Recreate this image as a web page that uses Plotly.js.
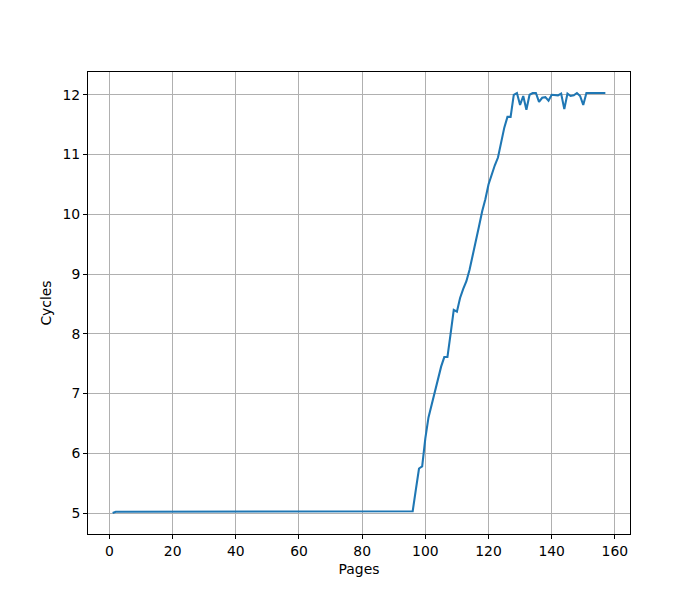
<!DOCTYPE html>
<html>
<head>
<meta charset="utf-8">
<script src="https://cdn.plot.ly/plotly-3.0.1.min.js"></script>
<style>html,body{margin:0;padding:0;background:#fff;}#chart{width:700px;height:600px;}</style>
</head>
<body>
<div id="chart"></div>
<script>
var flatCycles = [
  5.0,
  5.02,5.02,5.02,5.02,5.02,5.02,5.02,5.02,5.02,5.02,
  5.02,5.02,5.02,5.02,5.02,5.02,5.02,5.02,5.02,5.02,
  5.02,5.02,5.02,5.02,5.02,5.02,5.02,5.02,5.02,5.02,
  5.02,5.02,5.02,5.02,5.02,5.02,5.02,5.02,5.02,5.02,
  5.02,5.02,5.02,5.02,5.02,5.02,5.02,5.02,5.02,5.02,
  5.02,5.02,5.02,5.02,5.02,5.02,5.02,5.02,5.02,5.02,
  5.02,5.02,5.02,5.02,5.02,5.02,5.02,5.02,5.02,5.02,
  5.02,5.02,5.02,5.02,5.02,5.02,5.02,5.02,5.02,5.02,
  5.02,5.02,5.02,5.02,5.02,5.02,5.02,5.02,5.02,5.02,
  5.02,5.02,5.02,5.02,5.03
];
var riseCycles = [
  5.39, 5.745, 5.78, 6.25, 6.6, 6.82, 7.02, 7.22, 7.45, 7.61,
  7.61, 8.0, 8.4, 8.37, 8.6, 8.75, 8.88, 9.07, 9.3, 9.58,
  9.8, 10.05, 10.25, 10.5, 10.68, 10.82, 10.95, 11.2, 11.45, 11.63,
  11.63
];
var topCycles = [
  12.0, 12.03, 11.83, 11.98, 11.75, 12.0, 12.03, 12.03, 11.88, 11.95,
  11.96, 11.9, 12.0, 11.99, 11.99, 12.02, 11.76, 12.02, 11.98, 11.99,
  12.03, 11.98, 11.83, 12.03, 12.03, 12.03, 12.03, 12.03, 12.03, 12.03
];
var cycles = flatCycles.concat(riseCycles, topCycles);
var pages = cycles.map(function (_, i) { return i + 1; });

var xTicks = [0, 20, 40, 60, 80, 100, 120, 140, 160];
var yTicks = [5, 6, 7, 8, 9, 10, 11, 12];

var font = {family: 'DejaVu Sans', size: 13.9, color: '#000'};
var axisCommon = {
  showline: true, mirror: true, linecolor: '#000', linewidth: 1,
  ticks: 'outside', ticklen: 4, tickwidth: 1, tickcolor: '#000',
  showgrid: true, gridcolor: '#b0b0b0', gridwidth: 1,
  zeroline: false, tickfont: font
};

var xaxis = Object.assign({}, axisCommon, {
  range: [-6.8, 164.8], tickvals: xTicks, ticktext: xTicks.map(String),
  title: {text: 'Pages', font: font, standoff: 6}
});
var yaxis = Object.assign({}, axisCommon, {
  range: [4.6485, 12.3815], tickvals: yTicks, ticktext: yTicks.map(String),
  title: {text: 'Cycles', font: font, standoff: 7}
});

Plotly.newPlot('chart', [{
  x: pages, y: cycles, type: 'scatter', mode: 'lines',
  line: {color: '#1f77b4', width: 2.08}
}], {
  width: 700, height: 600,
  margin: {l: 88, r: 70, t: 72, b: 66},
  paper_bgcolor: '#fff', plot_bgcolor: '#fff',
  showlegend: false, font: font,
  xaxis: xaxis, yaxis: yaxis
}, {displayModeBar: false, staticPlot: true});
</script>
</body>
</html>
